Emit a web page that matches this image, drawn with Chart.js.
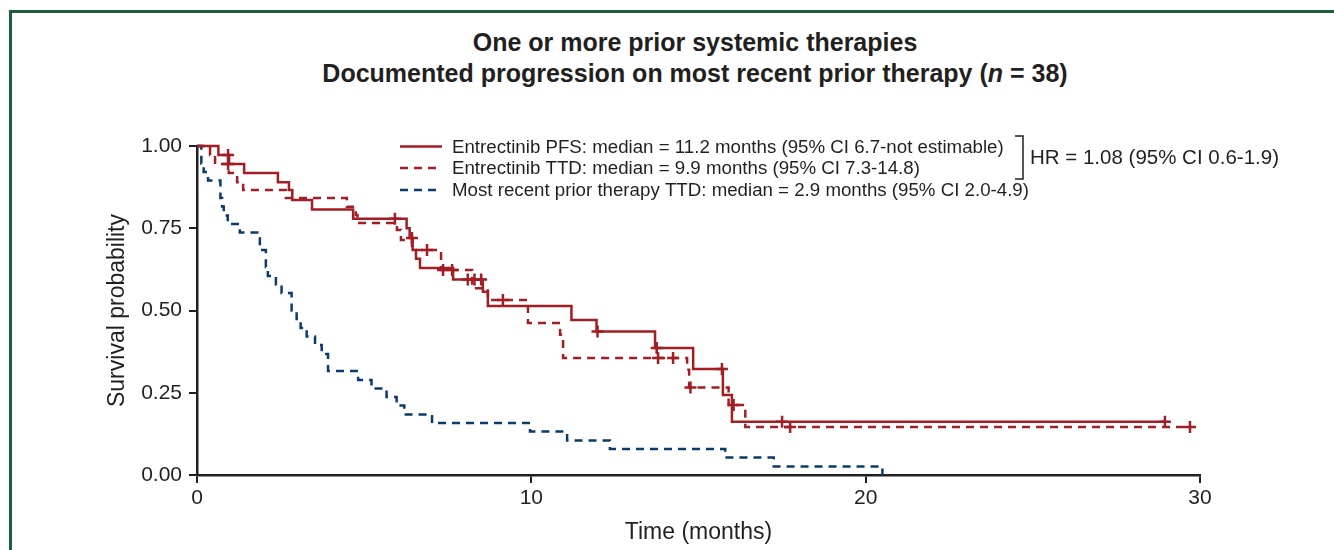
<!DOCTYPE html>
<html>
<head>
<meta charset="utf-8">
<script src="https://cdn.jsdelivr.net/npm/chart.js@4.4.1/dist/chart.umd.min.js"></script>
<style>
  html, body { margin: 0; padding: 0; background: #fff; }
  .frame {
    position: absolute; left: 9px; top: 10px; width: 1400px; height: 600px;
    border-top: 3px solid #1f5e3d; border-left: 3px solid #1f5e3d;
  }
  .title {
    position: absolute; left: 0; top: 27px; width: 1390px;
    text-align: center; color: #231f20;
    font: bold 25px "Liberation Sans", Arial, sans-serif; line-height: 31px;
  }
  #wrap { position: absolute; left: 0; top: 0; width: 1334px; height: 550px; }
</style>
</head>
<body>
<div class="frame"></div>
<div class="title">One or more prior systemic therapies<br>Documented progression on most recent prior therapy (<i>n</i> = 38)</div>
<div id="wrap"><canvas id="km" width="1334" height="550"></canvas></div>
<script>
// Entrectinib PFS (solid red): event times and survival after each step
const pfsTime = [0, 0.64, 0.96, 1.41, 2.42, 2.75, 2.85, 3.44, 4.67, 6.27, 6.36, 6.45, 6.55, 6.67, 7.66, 8.55, 8.7, 11.2, 11.95, 13.7, 14.84, 15.73, 16.0, 28.95];
const pfsSurv = [1, 0.973, 0.945, 0.918, 0.89, 0.866, 0.836, 0.807, 0.779, 0.75, 0.72, 0.684, 0.657, 0.629, 0.594, 0.557, 0.514, 0.471, 0.436, 0.386, 0.322, 0.243, 0.162, 0.162];
const pfsCensor = [0.93, 5.92, 6.43, 8.1, 8.3, 8.5, 11.98, 13.75, 15.7, 17.5, 28.95];

// Entrectinib TTD (dashed red)
const ttdTime = [0, 0.39, 0.54, 0.95, 1.2, 1.38, 2.66, 4.48, 4.75, 4.8, 5.98, 6.1, 6.43, 7.3, 8.23, 8.7, 9.9, 10.86, 10.95, 14.66, 14.72, 15.9, 16.4, 29.7];
const ttdSurv = [1, 0.973, 0.945, 0.918, 0.89, 0.866, 0.842, 0.815, 0.79, 0.766, 0.745, 0.714, 0.684, 0.623, 0.568, 0.532, 0.462, 0.426, 0.356, 0.32, 0.266, 0.213, 0.146, 0.146];
const ttdCensor = [0.93, 6.88, 7.36, 7.63, 9.15, 13.79, 14.24, 14.76, 16.05, 17.74, 29.7];

// Most recent prior therapy TTD (dashed blue)
const priorTime = [0, 0.13, 0.2, 0.33, 0.7, 0.75, 0.8, 0.92, 1.28, 1.88, 2.06, 2.12, 2.36, 2.53, 2.83, 2.98, 3.1, 3.28, 3.53, 3.73, 3.92, 4.82, 5.22, 5.67, 5.97, 6.2, 7.03, 9.96, 11.07, 12.35, 15.8, 17.25, 20.5];
const priorSurv = [1, 0.947, 0.921, 0.895, 0.842, 0.816, 0.789, 0.763, 0.737, 0.684, 0.632, 0.605, 0.579, 0.553, 0.5, 0.474, 0.447, 0.421, 0.395, 0.368, 0.316, 0.289, 0.263, 0.237, 0.211, 0.184, 0.158, 0.132, 0.105, 0.079, 0.053, 0.026, 0];

const xTicks = [0, 10, 20, 30];
const yTicks = [0, 0.25, 0.5, 0.75, 1];

const legendLabels = [
  'Entrectinib PFS: median = 11.2 months (95% CI 6.7-not estimable)',
  'Entrectinib TTD: median = 9.9 months (95% CI 7.3-14.8)',
  'Most recent prior therapy TTD: median = 2.9 months (95% CI 2.0-4.9)'
];
const hrLabel = 'HR = 1.08 (95% CI 0.6-1.9)';

const RED = '#a31d24';
const BLUE = '#0b3a6e';
const INK = '#231f20';
const DASH = [8, 6];
const FONT = '"Liberation Sans", Arial, sans-serif';

const toPoints = (times, surv) => times.map((t, i) => ({ x: t, y: surv[i] }));
const survAt = (times, surv, t) => {
  let v = surv[0];
  for (let i = 0; i < times.length; i++) if (times[i] <= t) v = surv[i];
  return v;
};
const censorPoints = (cens, times, surv) => cens.map(t => ({ x: t, y: survAt(times, surv, t) }));

const stepLine = (data, color, dash) => ({
  data, borderColor: color, borderWidth: 2.5, borderDash: dash,
  stepped: 'before', pointRadius: 0, fill: false, clip: 8
});
const crosses = (data, color) => ({
  data, showLine: false, pointStyle: 'cross', pointRadius: 6,
  pointBorderWidth: 2.5, pointBorderColor: color, borderColor: color, clip: 8
});

const legendPlugin = {
  id: 'kmLegend',
  afterDraw(chart) {
    const ctx = chart.ctx;
    const rows = [146.5, 168, 190];
    const styles = [[RED, []], [RED, DASH], [BLUE, DASH]];
    ctx.save();
    ctx.font = '18.7px ' + FONT;
    ctx.textBaseline = 'middle';
    ctx.fillStyle = INK;
    rows.forEach((y, i) => {
      ctx.strokeStyle = styles[i][0];
      ctx.setLineDash(styles[i][1]);
      ctx.lineWidth = 2.5;
      ctx.beginPath();
      ctx.moveTo(400, y);
      ctx.lineTo(442, y);
      ctx.stroke();
      ctx.fillText(legendLabels[i], 452, y + 1);
    });
    // bracket joining the two entrectinib rows
    ctx.setLineDash([]);
    ctx.strokeStyle = INK;
    ctx.lineWidth = 1.5;
    ctx.beginPath();
    ctx.moveTo(1015, 136);
    ctx.lineTo(1023, 136);
    ctx.lineTo(1023, 179);
    ctx.lineTo(1015, 179);
    ctx.stroke();
    ctx.font = '20.5px ' + FONT;
    ctx.fillText(hrLabel, 1030, 158);
    ctx.restore();
  }
};

const axisCommon = {
  grid: { display: true, drawOnChartArea: false, drawTicks: true, tickLength: 8, color: INK, lineWidth: 2 },
  border: { display: true, color: INK, width: 2.5 },
};

new Chart(document.getElementById('km'), {
  type: 'line',
  data: {
    datasets: [
      stepLine(toPoints(pfsTime, pfsSurv), RED, []),
      stepLine(toPoints(ttdTime, ttdSurv), RED, DASH),
      stepLine(toPoints(priorTime, priorSurv), BLUE, DASH),
      crosses(censorPoints(pfsCensor, pfsTime, pfsSurv), RED),
      crosses(censorPoints(ttdCensor, ttdTime, ttdSurv), RED)
    ]
  },
  options: {
    responsive: false,
    animation: false,
    devicePixelRatio: 1,
    layout: { padding: { left: 100, right: 134, top: 146, bottom: 1 } },
    plugins: { legend: { display: false }, tooltip: { enabled: false } },
    scales: {
      x: {
        type: 'linear', min: 0, max: 30,
        ...axisCommon,
        afterBuildTicks: s => { s.ticks = xTicks.map(v => ({ value: v })); },
        ticks: { color: INK, font: { family: FONT, size: 21 }, padding: 3 },
        title: { display: true, text: 'Time (months)', color: INK, font: { family: FONT, size: 23 }, padding: { top: 4, bottom: 3 } },
        afterFit: s => { s.height = 74; }
      },
      y: {
        type: 'linear', min: 0, max: 1,
        ...axisCommon,
        afterBuildTicks: s => { s.ticks = yTicks.map(v => ({ value: v })); },
        ticks: { color: INK, font: { family: FONT, size: 21 }, padding: 7, callback: v => v.toFixed(2) },
        title: { display: true, text: 'Survival probability', color: INK, font: { family: FONT, size: 23 }, padding: { top: 4, bottom: 4 } },
        afterFit: s => { s.width = 97; }
      }
    }
  },
  plugins: [legendPlugin]
});
</script>
</body>
</html>
